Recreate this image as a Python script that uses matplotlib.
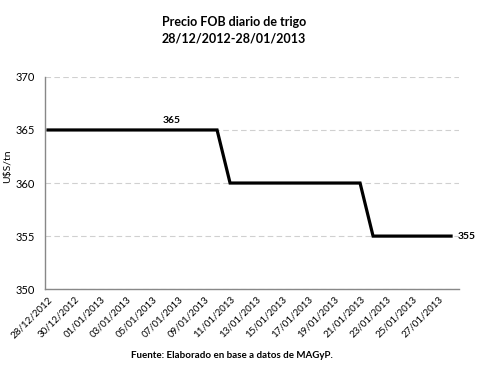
import numpy as np
import pandas as pd
import matplotlib
matplotlib.use('Agg')
import matplotlib.pyplot as plt

# ── Data ──────────────────────────────────────────────────────────────────────
dates = pd.date_range('2012-12-28', '2013-01-28', freq='D')
price = [365] * 14 + [360] * 11 + [355] * 7   # U$S/tn, 28/12 .. 28/01

tick_idx = list(range(0, 31, 2))
tick_labels = [dates[i].strftime('%d/%m/%Y') for i in tick_idx]

plt.rcParams['font.family'] = ['Lato', 'DejaVu Sans']

# ── Figure ────────────────────────────────────────────────────────────────────
fig = plt.figure(figsize=(4.82, 3.77), dpi=100)
ax = fig.add_axes([0.093, 0.233, 0.859, 0.563])

x = np.arange(len(price))
ax.plot(x, price, color='black', lw=2.3, solid_joinstyle='miter', zorder=3)

ax.set_xlim(-0.25, 31.6)
ax.set_ylim(350, 370)
ax.set_yticks([350, 355, 360, 365, 370])
ax.yaxis.grid(True, ls=(0, (5, 3)), color='#d0d0d0', lw=0.8)
ax.set_axisbelow(True)

ax.set_xticks(tick_idx)
ax.set_xticklabels(tick_labels, rotation=45, ha='right',
                   rotation_mode='anchor', fontsize=7)
ax.tick_params(axis='x', length=0, pad=4)
ax.tick_params(axis='y', length=0, labelsize=8, pad=7)

for s in ('top', 'right'):
    ax.spines[s].set_visible(False)
for s in ('left', 'bottom'):
    ax.spines[s].set_color('#888888')
    ax.spines[s].set_linewidth(1)

ax.set_ylabel('U$S/tn', fontsize=7.5)
ax.yaxis.set_label_coords(-0.078, 0.58)

# Data labels
ax.text(9.5, price[9] + 0.45, f'{price[9]}', fontsize=7.5,
        fontweight='bold', ha='center', va='bottom')
ax.text(x[-1] + 0.5, price[-1], f'{price[-1]}', fontsize=7.5,
        fontweight='bold', ha='left', va='center')

fig.text(0.485, 0.92, 'Precio FOB diario de trigo\n28/12/2012-28/01/2013',
         ha='center', va='center', fontsize=9, fontweight='bold',
         linespacing=1.5)
fig.text(0.482, 0.057, 'Fuente: Elaborado en base a datos de MAGyP.',
         ha='center', va='center', fontsize=7, fontweight='bold')

fig.savefig('out.png', dpi=100)
